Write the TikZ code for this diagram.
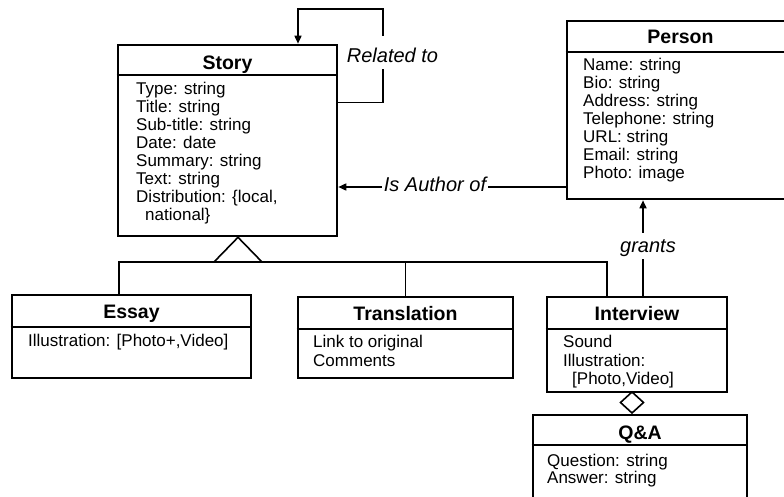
\documentclass[tikz,border=0pt]{standalone}
\usepackage{fontspec}
\setmainfont{Liberation Sans}
\usetikzlibrary{arrows.meta,calc}
\tikzset{
  box/.style={draw, line width=2.6pt, rectangle, inner sep=0pt},
  divider/.style={line width=2.6pt},
  conn/.style={line width=1.6pt},
  arr/.style={-{Triangle[length=8pt,width=7pt]}},
  attr/.style={anchor=base west, inner sep=0pt, font=\fontsize{17}{18}\selectfont},
  title/.style={anchor=base, inner sep=0pt, font=\fontsize{19.5}{22}\selectfont\bfseries},
  lbl/.style={anchor=base, fill=white, inner sep=0pt, font=\fontsize{20}{22}\selectfont\itshape},
}
\begin{document}
\begin{tikzpicture}[x=1pt,y=-1pt]
\useasboundingbox (0,0) rectangle (784,497);
\clip (0,0) rectangle (784,497);
\fill[white] (0,0) rectangle (784,497);

% boxes
\node[box, minimum width=219pt, minimum height=191pt] (story) at (227.5,140.5) {};
\node[box, minimum width=227pt, minimum height=178pt] (person) at (680.5,110) {};
\node[box, minimum width=239pt, minimum height=83pt] (essay) at (131.5,336.5) {};
\node[box, minimum width=215pt, minimum height=81pt] (translation) at (405.5,337.5) {};
\node[box, minimum width=180pt, minimum height=95pt] (interview) at (637,344.5) {};
\node[box, minimum width=214pt, minimum height=100pt] (qa) at (640,465) {};

% dividers
\draw[divider] (story.west |- 0,75) -- (story.east |- 0,75);
\draw[divider] (person.west |- 0,52) -- (person.east |- 0,52);
\draw[divider] (essay.west |- 0,327) -- (essay.east |- 0,327);
\draw[divider] (translation.west |- 0,329) -- (translation.east |- 0,329);
\draw[divider] (interview.west |- 0,329) -- (interview.east |- 0,329);
\draw[divider] (qa.west |- 0,445) -- (qa.east |- 0,445);

% titles
\node[title] (storyt) at (227.5,70) {Story};
\node[title] (persont) at (680.5,44) {Person};
\node[title] (essayt) at (131.5,318) {Essay};
\node[title] (translationt) at (405.5,320) {Translation};
\node[title] (interviewt) at (637,320) {Interview};
\node[title] (qat) at (640,439) {Q\&A};

% Story attributes
\node[attr] (s1) at (136,95) {Type: string};
\node[attr] (s2) at (136,113) {Title: string};
\node[attr] (s3) at (136,131) {Sub-title: string};
\node[attr] (s4) at (136,149) {Date: date};
\node[attr] (s5) at (136,167) {Summary: string};
\node[attr] (s6) at (136,185) {Text: string};
\node[attr] (s7) at (136,203) {Distribution: \{local,};
\node[attr] (s8) at (145,221) {national\}};

% Person attributes
\node[attr] (p1) at (583,71) {Name: string};
\node[attr] (p2) at (583,89) {Bio: string};
\node[attr] (p3) at (583,107) {Address: string};
\node[attr] (p4) at (583,125) {Telephone: string};
\node[attr] (p5) at (583,143) {URL: string};
\node[attr] (p6) at (583,161) {Email: string};
\node[attr] (p7) at (583,179) {Photo: image};

% Essay
\node[attr] (e1) at (28,346) {Illustration: [Photo+,Video]};
% Translation
\node[attr] (t1) at (313,347) {Link to original};
\node[attr] (t2) at (313,366) {Comments};
% Interview
\node[attr] (i1) at (563,347) {Sound};
\node[attr] (i2) at (563,366) {Illustration:};
\node[attr] (i3) at (572,384) {[Photo,Video]};
% Q&A
\node[attr] (q1) at (547,466) {Question: string};
\node[attr] (q2) at (547,483) {Answer: string};

% self relation
\draw[conn,arr] ([yshift=-59pt]story.north east) -| (383,9) -| ([xshift=70.5pt]story.north);
\node[lbl, text height=25pt, text depth=4pt, inner ysep=2pt, inner xsep=1pt] (rel) at (392.5,63) {Related to};

% Is Author of
\draw[conn,arr] (person.west |- 0,187) -- (story.east |- 0,187);
\node[lbl, inner xsep=2pt, text height=15pt, text depth=2pt] (auth) at (435,192) {Is Author of};

% grants
\coordinate (gr) at ([xshift=6pt]interview.north);
\draw[conn,arr] (gr) -- (gr |- person.south);
\node[lbl, text height=19pt, text depth=7pt] (grants) at (648,252) {grants};

% generalization
\coordinate (gen) at (238,262);
\coordinate (ivtop) at ([xshift=-30pt]interview.north);
\coordinate (estop) at ([xshift=-12.5pt]essay.north);
\draw[conn] (estop) |- (ivtop |- gen) -- (ivtop);
\draw[conn] (translation.north) -- (translation.north |- gen);
\draw[conn, line join=miter] (214,262) -- ([xshift=10.5pt]story.south) -- (262,262);

% aggregation diamond
\draw[conn, fill=white] (632,392) -- (643.5,402.5) -- (632,413) -- (620.5,402.5) -- cycle;
\end{tikzpicture}
\end{document}
